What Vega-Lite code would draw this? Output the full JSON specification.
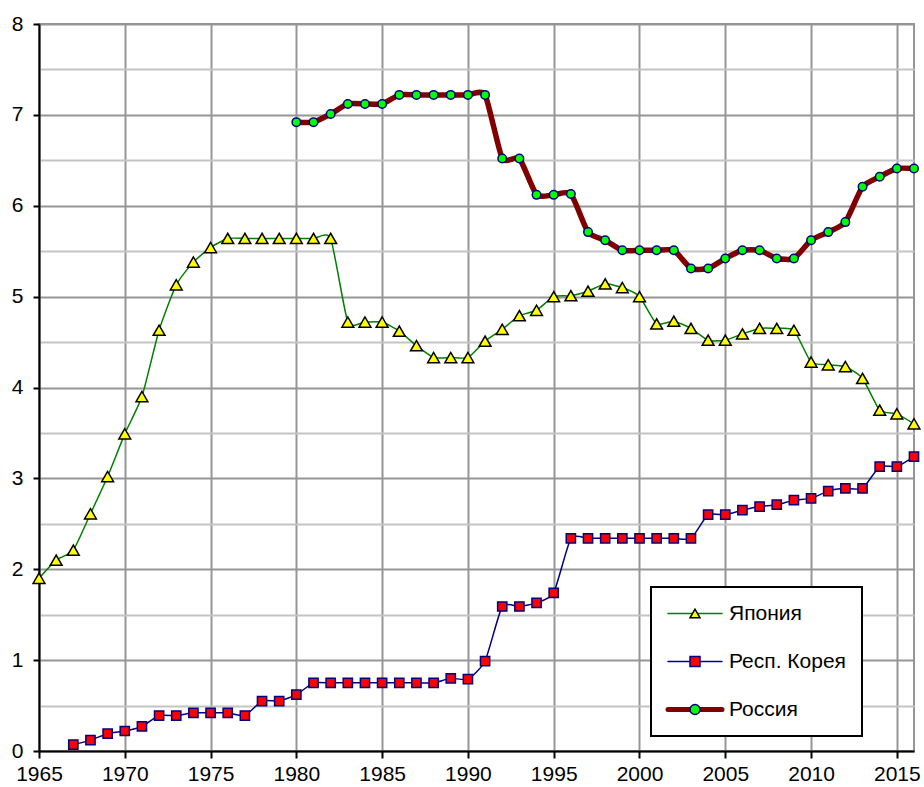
{
  "$schema": "https://vega.github.io/schema/vega-lite/v6.json",
  "width": 875,
  "height": 727,
  "autosize": "none",
  "padding": {"left": 39, "top": 24, "right": 10, "bottom": 36},
  "background": "white",
  "config": {
    "view": {"stroke": "#969696", "strokeWidth": 2},
    "font": "Liberation Sans"
  },
  "data": {
    "values": [
      {"country": "Япония", "year": 1965, "value": 1.90},
      {"country": "Япония", "year": 1966, "value": 2.10},
      {"country": "Япония", "year": 1967, "value": 2.21},
      {"country": "Япония", "year": 1968, "value": 2.61},
      {"country": "Япония", "year": 1969, "value": 3.02},
      {"country": "Япония", "year": 1970, "value": 3.49},
      {"country": "Япония", "year": 1971, "value": 3.90},
      {"country": "Япония", "year": 1972, "value": 4.63},
      {"country": "Япония", "year": 1973, "value": 5.13},
      {"country": "Япония", "year": 1974, "value": 5.38},
      {"country": "Япония", "year": 1975, "value": 5.54},
      {"country": "Япония", "year": 1976, "value": 5.64},
      {"country": "Япония", "year": 1977, "value": 5.64},
      {"country": "Япония", "year": 1978, "value": 5.64},
      {"country": "Япония", "year": 1979, "value": 5.64},
      {"country": "Япония", "year": 1980, "value": 5.64},
      {"country": "Япония", "year": 1981, "value": 5.64},
      {"country": "Япония", "year": 1982, "value": 5.64},
      {"country": "Япония", "year": 1983, "value": 4.72},
      {"country": "Япония", "year": 1984, "value": 4.72},
      {"country": "Япония", "year": 1985, "value": 4.72},
      {"country": "Япония", "year": 1986, "value": 4.62},
      {"country": "Япония", "year": 1987, "value": 4.46},
      {"country": "Япония", "year": 1988, "value": 4.33},
      {"country": "Япония", "year": 1989, "value": 4.33},
      {"country": "Япония", "year": 1990, "value": 4.33},
      {"country": "Япония", "year": 1991, "value": 4.51},
      {"country": "Япония", "year": 1992, "value": 4.64},
      {"country": "Япония", "year": 1993, "value": 4.79},
      {"country": "Япония", "year": 1994, "value": 4.85},
      {"country": "Япония", "year": 1995, "value": 5.00},
      {"country": "Япония", "year": 1996, "value": 5.01},
      {"country": "Япония", "year": 1997, "value": 5.06},
      {"country": "Япония", "year": 1998, "value": 5.14},
      {"country": "Япония", "year": 1999, "value": 5.10},
      {"country": "Япония", "year": 2000, "value": 5.00},
      {"country": "Япония", "year": 2001, "value": 4.70},
      {"country": "Япония", "year": 2002, "value": 4.73},
      {"country": "Япония", "year": 2003, "value": 4.65},
      {"country": "Япония", "year": 2004, "value": 4.52},
      {"country": "Япония", "year": 2005, "value": 4.52},
      {"country": "Япония", "year": 2006, "value": 4.59},
      {"country": "Япония", "year": 2007, "value": 4.65},
      {"country": "Япония", "year": 2008, "value": 4.65},
      {"country": "Япония", "year": 2009, "value": 4.63},
      {"country": "Япония", "year": 2010, "value": 4.28},
      {"country": "Япония", "year": 2011, "value": 4.25},
      {"country": "Япония", "year": 2012, "value": 4.23},
      {"country": "Япония", "year": 2013, "value": 4.10},
      {"country": "Япония", "year": 2014, "value": 3.75},
      {"country": "Япония", "year": 2015, "value": 3.71},
      {"country": "Япония", "year": 2016, "value": 3.60},
      {"country": "Респ. Корея", "year": 1967, "value": 0.07},
      {"country": "Респ. Корея", "year": 1968, "value": 0.12},
      {"country": "Респ. Корея", "year": 1969, "value": 0.19},
      {"country": "Респ. Корея", "year": 1970, "value": 0.22},
      {"country": "Респ. Корея", "year": 1971, "value": 0.27},
      {"country": "Респ. Корея", "year": 1972, "value": 0.39},
      {"country": "Респ. Корея", "year": 1973, "value": 0.39},
      {"country": "Респ. Корея", "year": 1974, "value": 0.42},
      {"country": "Респ. Корея", "year": 1975, "value": 0.42},
      {"country": "Респ. Корея", "year": 1976, "value": 0.42},
      {"country": "Респ. Корея", "year": 1977, "value": 0.39},
      {"country": "Респ. Корея", "year": 1978, "value": 0.55},
      {"country": "Респ. Корея", "year": 1979, "value": 0.55},
      {"country": "Респ. Корея", "year": 1980, "value": 0.62},
      {"country": "Респ. Корея", "year": 1981, "value": 0.75},
      {"country": "Респ. Корея", "year": 1982, "value": 0.75},
      {"country": "Респ. Корея", "year": 1983, "value": 0.75},
      {"country": "Респ. Корея", "year": 1984, "value": 0.75},
      {"country": "Респ. Корея", "year": 1985, "value": 0.75},
      {"country": "Респ. Корея", "year": 1986, "value": 0.75},
      {"country": "Респ. Корея", "year": 1987, "value": 0.75},
      {"country": "Респ. Корея", "year": 1988, "value": 0.75},
      {"country": "Респ. Корея", "year": 1989, "value": 0.80},
      {"country": "Респ. Корея", "year": 1990, "value": 0.79},
      {"country": "Респ. Корея", "year": 1991, "value": 0.99},
      {"country": "Респ. Корея", "year": 1992, "value": 1.59},
      {"country": "Респ. Корея", "year": 1993, "value": 1.59},
      {"country": "Респ. Корея", "year": 1994, "value": 1.63},
      {"country": "Респ. Корея", "year": 1995, "value": 1.74},
      {"country": "Респ. Корея", "year": 1996, "value": 2.34},
      {"country": "Респ. Корея", "year": 1997, "value": 2.34},
      {"country": "Респ. Корея", "year": 1998, "value": 2.34},
      {"country": "Респ. Корея", "year": 1999, "value": 2.34},
      {"country": "Респ. Корея", "year": 2000, "value": 2.34},
      {"country": "Респ. Корея", "year": 2001, "value": 2.34},
      {"country": "Респ. Корея", "year": 2002, "value": 2.34},
      {"country": "Респ. Корея", "year": 2003, "value": 2.34},
      {"country": "Респ. Корея", "year": 2004, "value": 2.60},
      {"country": "Респ. Корея", "year": 2005, "value": 2.60},
      {"country": "Респ. Корея", "year": 2006, "value": 2.65},
      {"country": "Респ. Корея", "year": 2007, "value": 2.69},
      {"country": "Респ. Корея", "year": 2008, "value": 2.71},
      {"country": "Респ. Корея", "year": 2009, "value": 2.76},
      {"country": "Респ. Корея", "year": 2010, "value": 2.78},
      {"country": "Респ. Корея", "year": 2011, "value": 2.86},
      {"country": "Респ. Корея", "year": 2012, "value": 2.89},
      {"country": "Респ. Корея", "year": 2013, "value": 2.89},
      {"country": "Респ. Корея", "year": 2014, "value": 3.13},
      {"country": "Респ. Корея", "year": 2015, "value": 3.13},
      {"country": "Респ. Корея", "year": 2016, "value": 3.24},
      {"country": "Россия", "year": 1980, "value": 6.92},
      {"country": "Россия", "year": 1981, "value": 6.92},
      {"country": "Россия", "year": 1982, "value": 7.01},
      {"country": "Россия", "year": 1983, "value": 7.12},
      {"country": "Россия", "year": 1984, "value": 7.12},
      {"country": "Россия", "year": 1985, "value": 7.12},
      {"country": "Россия", "year": 1986, "value": 7.22},
      {"country": "Россия", "year": 1987, "value": 7.22},
      {"country": "Россия", "year": 1988, "value": 7.22},
      {"country": "Россия", "year": 1989, "value": 7.22},
      {"country": "Россия", "year": 1990, "value": 7.22},
      {"country": "Россия", "year": 1991, "value": 7.22},
      {"country": "Россия", "year": 1992, "value": 6.52},
      {"country": "Россия", "year": 1993, "value": 6.52},
      {"country": "Россия", "year": 1994, "value": 6.12},
      {"country": "Россия", "year": 1995, "value": 6.12},
      {"country": "Россия", "year": 1996, "value": 6.13},
      {"country": "Россия", "year": 1997, "value": 5.71},
      {"country": "Россия", "year": 1998, "value": 5.62},
      {"country": "Россия", "year": 1999, "value": 5.51},
      {"country": "Россия", "year": 2000, "value": 5.51},
      {"country": "Россия", "year": 2001, "value": 5.51},
      {"country": "Россия", "year": 2002, "value": 5.51},
      {"country": "Россия", "year": 2003, "value": 5.31},
      {"country": "Россия", "year": 2004, "value": 5.31},
      {"country": "Россия", "year": 2005, "value": 5.42},
      {"country": "Россия", "year": 2006, "value": 5.51},
      {"country": "Россия", "year": 2007, "value": 5.51},
      {"country": "Россия", "year": 2008, "value": 5.42},
      {"country": "Россия", "year": 2009, "value": 5.42},
      {"country": "Россия", "year": 2010, "value": 5.62},
      {"country": "Россия", "year": 2011, "value": 5.71},
      {"country": "Россия", "year": 2012, "value": 5.82},
      {"country": "Россия", "year": 2013, "value": 6.21},
      {"country": "Россия", "year": 2014, "value": 6.32},
      {"country": "Россия", "year": 2015, "value": 6.41},
      {"country": "Россия", "year": 2016, "value": 6.41}
    ]
  },
  "encoding": {
    "x": {
      "field": "year",
      "type": "quantitative",
      "scale": {"domain": [1965, 2016], "nice": false, "zero": false},
      "axis": {
        "title": null,
        "values": [1965, 1970, 1975, 1980, 1985, 1990, 1995, 2000, 2005, 2010, 2015],
        "format": "d",
        "labelFont": "Liberation Sans",
        "labelFontSize": 21,
        "labelColor": "black",
        "labelFlush": false,
        "labelOverlap": false,
        "labelPadding": 5,
        "tickSize": 7,
        "tickWidth": 2,
        "tickColor": "black",
        "domainColor": "black",
        "domainWidth": 2,
        "gridColor": "#969696",
        "gridWidth": 2
      }
    },
    "y": {
      "field": "value",
      "type": "quantitative",
      "scale": {"domain": [0, 8], "nice": false},
      "axis": {
        "title": null,
        "values": [0, 0.5, 1, 1.5, 2, 2.5, 3, 3.5, 4, 4.5, 5, 5.5, 6, 6.5, 7, 7.5, 8],
        "labelExpr": "datum.value % 1 === 0 ? format(datum.value, 'd') : ''",
        "labelFont": "Liberation Sans",
        "labelFontSize": 21,
        "labelColor": "black",
        "labelFlush": false,
        "labelOverlap": false,
        "labelPadding": 10,
        "tickSize": 6,
        "tickWidth": 2,
        "tickColor": "black",
        "tickOpacity": {"condition": {"test": "datum.value % 1 !== 0", "value": 0}, "value": 1},
        "domainColor": "black",
        "domainWidth": 2,
        "gridColor": {"condition": {"test": "datum.value % 1 !== 0", "value": "#c4c4c4"}, "value": "#969696"},
        "gridWidth": 2
      }
    }
  },
  "layer": [
    {
      "mark": {"type": "line", "interpolate": "cardinal", "tension": 0.45},
      "encoding": {
        "color": {
          "field": "country",
          "type": "nominal",
          "scale": {"domain": ["Япония", "Респ. Корея", "Россия"], "range": ["#008000", "#000080", "#800000"]},
          "legend": {
            "title": null,
            "orient": "none",
            "legendX": 612,
            "legendY": 563,
            "padding": 16,
            "rowPadding": 26,
            "fillColor": "white",
            "strokeColor": "black",
            "symbolType": "M-3.857,0H3.857",
            "symbolSize": 196,
            "symbolStrokeWidth": 1.5,
            "symbolOffset": 17.5,
            "labelOffset": 23.5,
            "labelFont": "Liberation Sans",
            "labelFontSize": 21,
            "labelColor": "black",
            "encode": {
              "legend": {"update": {"strokeWidth": {"value": 2}}},
              "symbols": {"update": {
                "strokeWidth": {"signal": "datum.value === 'Россия' ? 5 : 1.5"},
                "strokeCap": {"value": "round"},
                "fill": {"value": "transparent"}
              }}
            }
          }
        },
        "strokeWidth": {"condition": {"test": "datum.country === 'Россия'", "value": 5.5}, "value": 1.5}
      }
    },
    {
      "mark": {"type": "point", "filled": true, "opacity": 1, "strokeWidth": 1.5},
      "encoding": {
        "shape": {
          "field": "country",
          "type": "nominal",
          "scale": {"domain": ["Япония", "Респ. Корея", "Россия"], "range": ["triangle-up", "square", "circle"]},
          "legend": {
            "title": null,
            "orient": "none",
            "legendX": 612,
            "legendY": 563,
            "padding": 16,
            "rowPadding": 26,
            "symbolOffset": 17.5,
            "labelOffset": 23.5,
            "labelFont": "Liberation Sans",
            "labelFontSize": 21,
            "labelOpacity": 0,
            "symbolStrokeWidth": 1.5,
            "encode": {
              "symbols": {"update": {
                "size": {"signal": "datum.value === 'Япония' ? 140 : datum.value === 'Респ. Корея' ? 85 : 72"}
              }}
            }
          }
        },
        "fill": {
          "field": "country",
          "type": "nominal",
          "scale": {"domain": ["Япония", "Респ. Корея", "Россия"], "range": ["#ffff00", "#ff0000", "#00ff00"]}
        },
        "stroke": {
          "field": "country",
          "type": "nominal",
          "scale": {"domain": ["Япония", "Респ. Корея", "Россия"], "range": ["#000000", "#000080", "#000080"]}
        },
        "size": {
          "condition": [
            {"test": "datum.country === 'Япония'", "value": 140},
            {"test": "datum.country === 'Респ. Корея'", "value": 85}
          ],
          "value": 72
        }
      }
    }
  ],
  "resolve": {"legend": {"color": "independent", "shape": "independent", "fill": "independent", "stroke": "independent"}}
}
